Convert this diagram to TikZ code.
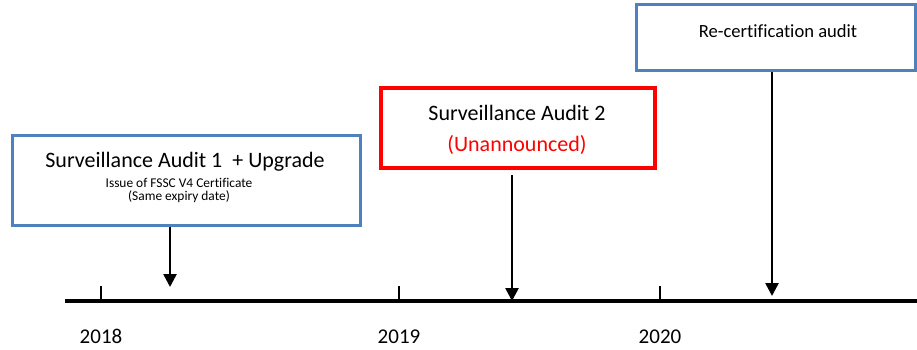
\documentclass[tikz,border=0pt]{standalone}
\usepackage{fontspec}
\setmainfont{Carlito}[Ligatures=CommonOff]
\usepackage{tikz}
\usetikzlibrary{arrows.meta,% sized triangle tips
positioning}
\definecolor{auditblue}{HTML}{4F81BD}
\tikzset{every node/.style={font=\fontsize{22}{26}\selectfont},
auditbox/.style={draw=auditblue,line width=3pt,fill=white,inner sep=0pt},
surpbox/.style={draw=red,line width=4pt,fill=white,inner sep=0pt},
boxtext/.style={anchor=base,inner sep=0pt},
smalltext/.style={boxtext,font=\fontsize{13.4}{16}\selectfont},
auditarrow/.style={line width=2.6pt,-{Triangle[width=13pt,length=13pt]}}}
\newcommand{\yeartick}[2]
{\draw[line width=1.2pt] (#1,48) -- (#1,63);
 \node[boxtext,font=\fontsize{21}{24}\selectfont] (y#2) at (#1,6) {#2};}
\begin{document}
\begin{tikzpicture}[x=1pt,y=1pt]
\useasboundingbox (0,0) rectangle (917,349);
\draw[line width=4pt] (65,48) -- (917,48);
\foreach \x/\yr in {101/2018,399/2019,660/2020} \yeartick{\x}{\yr};
% audit boxes
\node[auditbox,minimum width=348pt,minimum height=90pt] (sa1) at (186,169) {};
\node[boxtext] (sa1t) at (185,182) {Surveillance Audit 1~~+ Upgrade};
\node[smalltext] (sa1u) at (179,162) {Issue of FSSC V4 Certificate};
\node[smalltext] (sa1v) at (179,149) {(Same expiry date)};
\node[surpbox,minimum width=274pt,minimum height=80pt] (sa2) at (518,221) {};
\node[boxtext] (sa2t) at (517,229) {Surveillance Audit 2};
\node[boxtext,red] (sa2u) at (517,198) {(Unannounced)};
\node[auditbox,minimum width=279pt,minimum height=65pt] (rc) at (775.5,311.5) {};
\node[boxtext,font=\fontsize{18.6}{22}\selectfont] (rct) at (778,312) {Re-certification audit};
% arrows to the time line
\coordinate (t1) at (170,62);
\coordinate (t2) at (512,48);
\coordinate (t3) at (772,53);
\draw[auditarrow] (sa1.south -| t1) -- (t1);
\draw[auditarrow] ([yshift=-5pt]sa2.south -| t2) -- (t2);
\draw[auditarrow] (rc.south -| t3) -- (t3);
\end{tikzpicture}
\end{document}
